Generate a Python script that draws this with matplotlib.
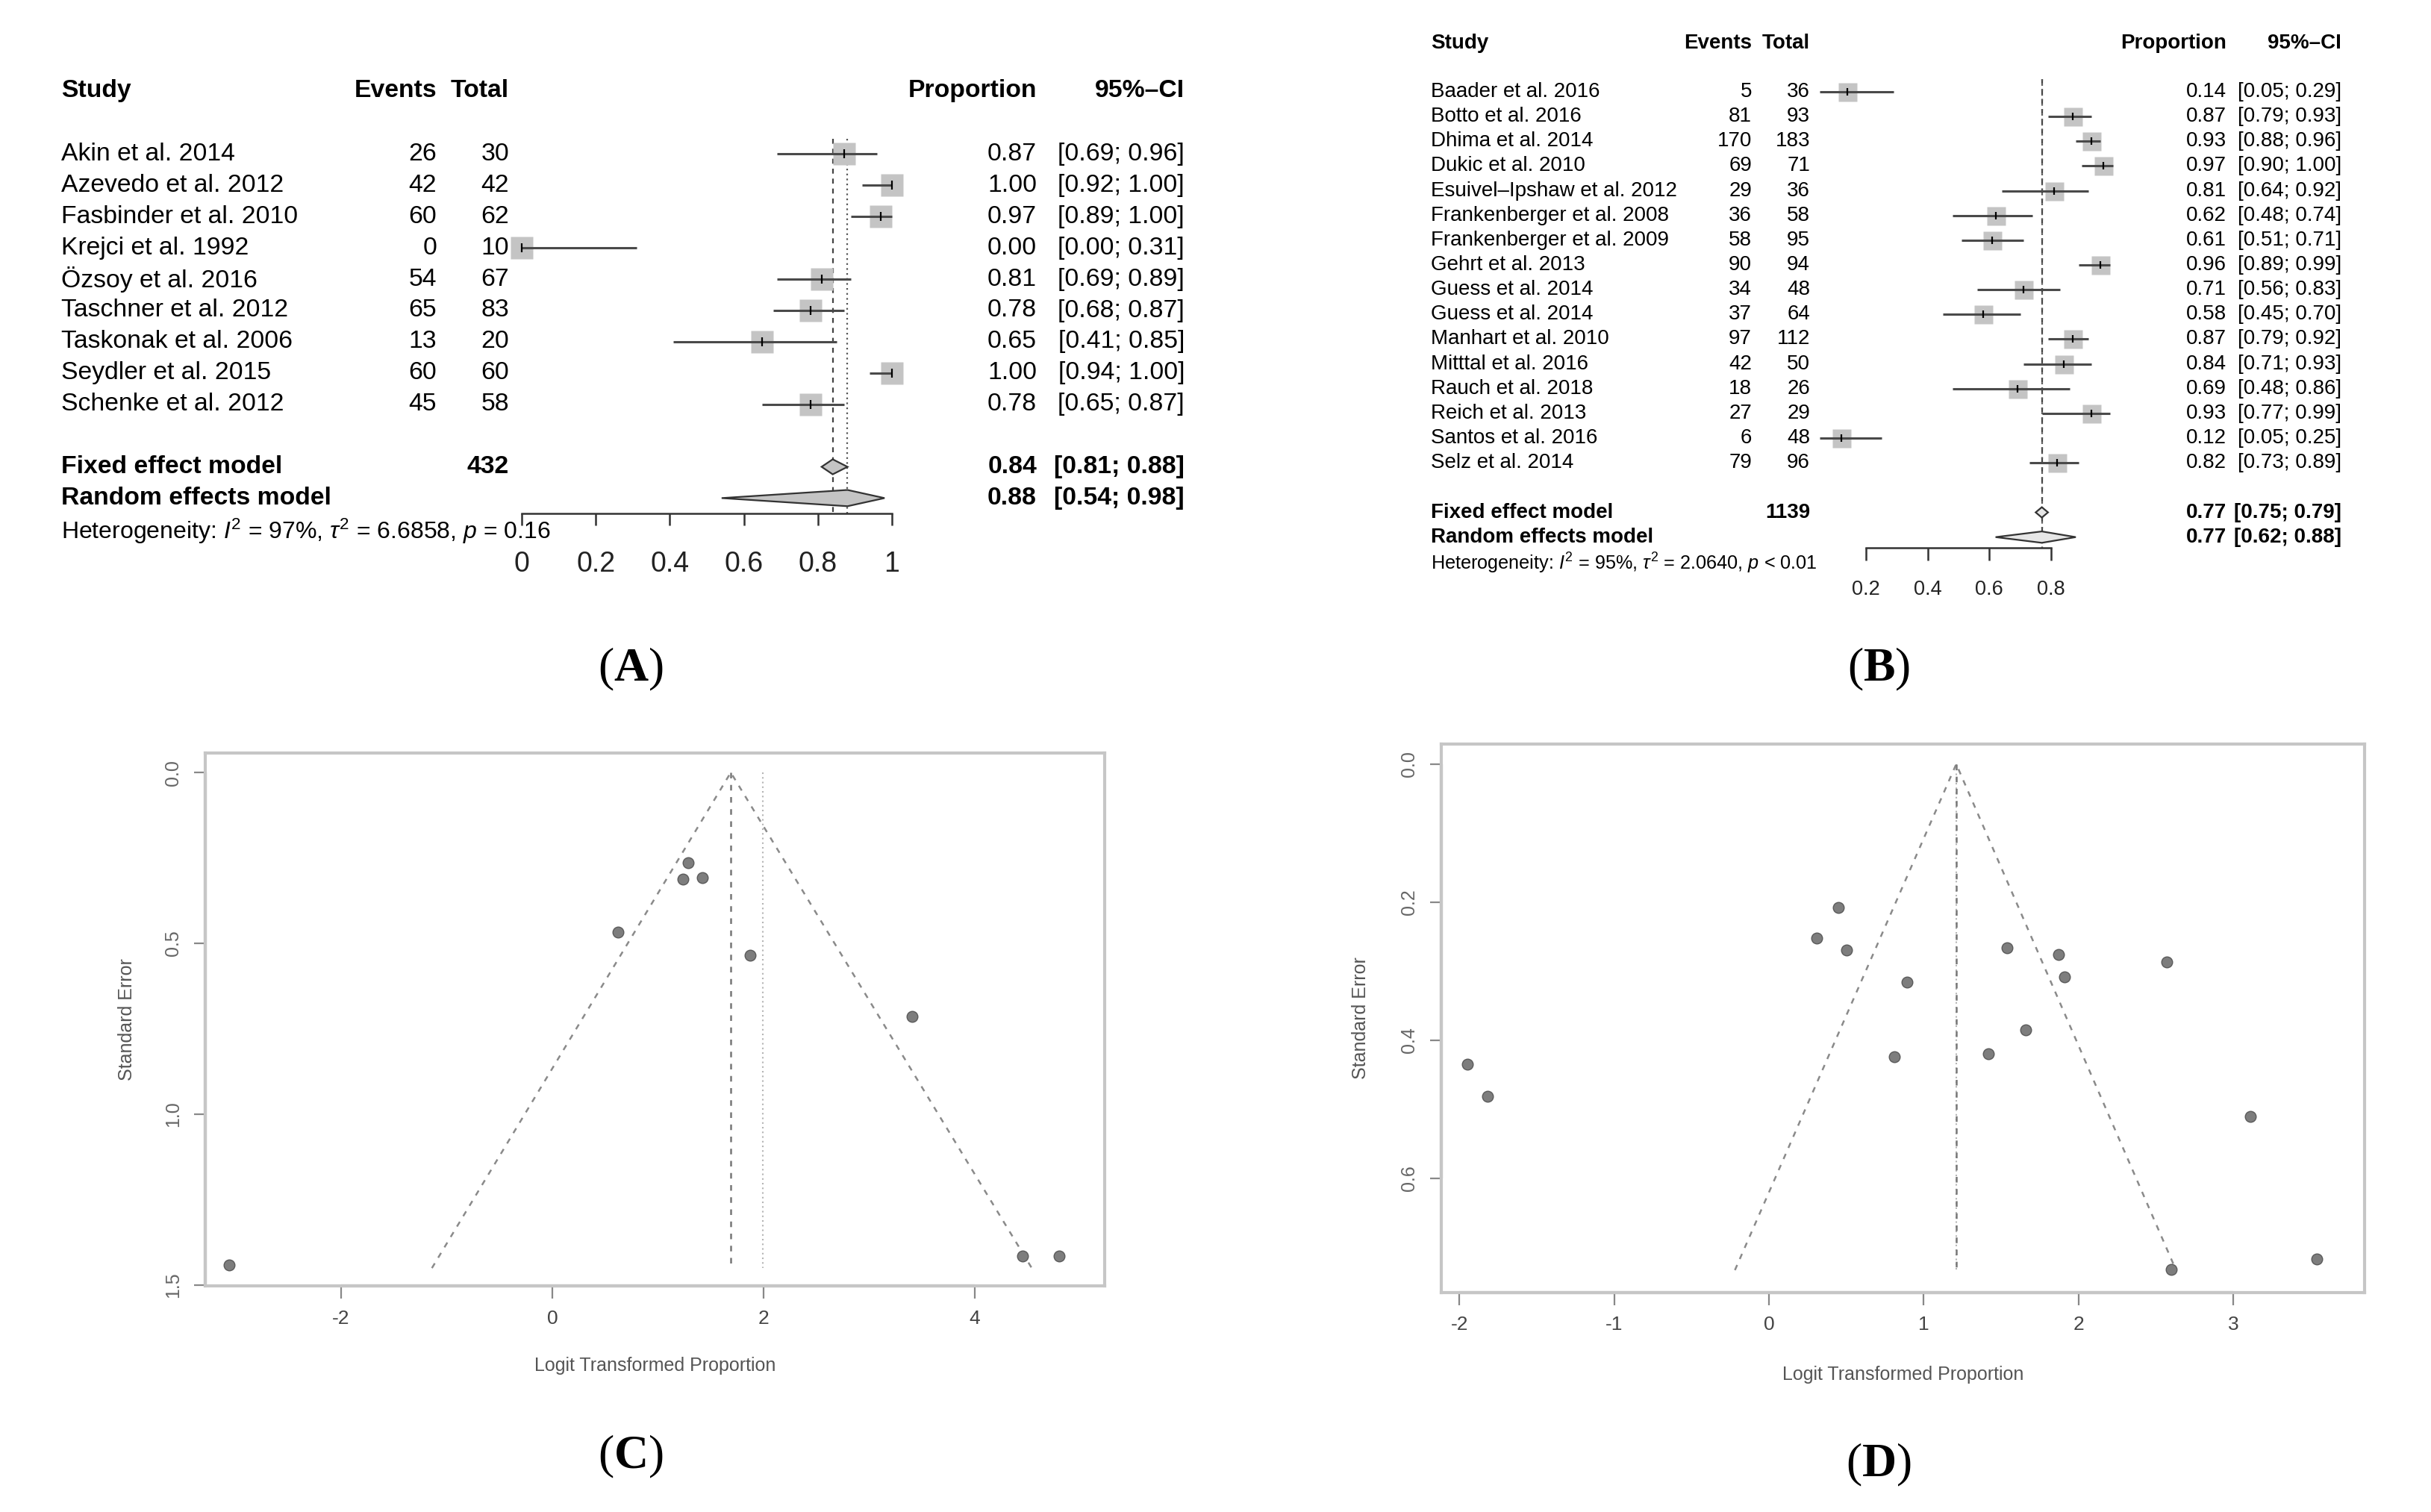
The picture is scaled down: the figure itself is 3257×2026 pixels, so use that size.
import matplotlib
matplotlib.use('Agg')
import matplotlib.pyplot as plt
import matplotlib.transforms as mtransforms

plt.rcParams['font.family'] = ['Liberation Sans', 'DejaVu Sans']
plt.rcParams['axes.unicode_minus'] = False
plt.rcParams['mathtext.fontset'] = 'custom'
plt.rcParams['mathtext.rm'] = 'Liberation Sans'
plt.rcParams['mathtext.it'] = 'Liberation Sans:italic'
plt.rcParams['mathtext.bf'] = 'Liberation Serif:bold'

# ---- panel A: forest plot ----
a_studies = ['Akin et al. 2014', 'Azevedo et al. 2012', 'Fasbinder et al. 2010', 'Krejci et al. 1992',
             'Özsoy et al. 2016', 'Taschner et al. 2012', 'Taskonak et al. 2006', 'Seydler et al. 2015',
             'Schenke et al. 2012']
a_events = [26, 42, 60, 0, 54, 65, 13, 60, 45]
a_totals = [30, 42, 62, 10, 67, 83, 20, 60, 58]
a_prop = [0.87, 1.00, 0.97, 0.00, 0.81, 0.78, 0.65, 1.00, 0.78]
a_lo = [0.69, 0.92, 0.89, 0.00, 0.69, 0.68, 0.41, 0.94, 0.65]
a_hi = [0.96, 1.00, 1.00, 0.31, 0.89, 0.87, 0.85, 1.00, 0.87]
a_fixed = [0.84, 0.81, 0.88]
a_random = [0.88, 0.54, 0.98]
a_total_sum = 432
a_het = r'Heterogeneity: $I^2$ = 97%, $\tau^2$ = 6.6858, $p$ = 0.16'

# ---- panel B: forest plot ----
b_studies = ['Baader et al. 2016', 'Botto et al. 2016', 'Dhima et al. 2014', 'Dukic et al. 2010',
             'Esuivel–Ipshaw et al. 2012', 'Frankenberger et al. 2008', 'Frankenberger et al. 2009',
             'Gehrt et al. 2013', 'Guess et al. 2014', 'Guess et al. 2014', 'Manhart et al. 2010',
             'Mitttal et al. 2016', 'Rauch et al. 2018', 'Reich et al. 2013', 'Santos et al. 2016',
             'Selz et al. 2014']
b_events = [5, 81, 170, 69, 29, 36, 58, 90, 34, 37, 97, 42, 18, 27, 6, 79]
b_totals = [36, 93, 183, 71, 36, 58, 95, 94, 48, 64, 112, 50, 26, 29, 48, 96]
b_prop = [0.14, 0.87, 0.93, 0.97, 0.81, 0.62, 0.61, 0.96, 0.71, 0.58, 0.87, 0.84, 0.69, 0.93, 0.12, 0.82]
b_lo = [0.05, 0.79, 0.88, 0.90, 0.64, 0.48, 0.51, 0.89, 0.56, 0.45, 0.79, 0.71, 0.48, 0.77, 0.05, 0.73]
b_hi = [0.29, 0.93, 0.96, 1.00, 0.92, 0.74, 0.71, 0.99, 0.83, 0.70, 0.92, 0.93, 0.86, 0.99, 0.25, 0.89]
b_fixed = [0.77, 0.75, 0.79]
b_random = [0.77, 0.62, 0.88]
b_total_sum = 1139
b_het = r'Heterogeneity: $I^2$ = 95%, $\tau^2$ = 2.0640, $p$ < 0.01'

# ---- panel C: funnel plot ----
c_logit = [1.29, 1.24, 1.42, 0.62, 1.87, 3.41, -3.06, 4.45, 4.80]
c_se = [0.264, 0.312, 0.308, 0.466, 0.534, 0.714, 1.441, 1.415, 1.415]
c_funnel_x = [-1.14, 1.69, 4.54]
c_funnel_y = [1.45, 0.0, 1.45]
c_fixed = 1.69
c_random = 1.99
c_se_max = 1.45

# ---- panel D: funnel plot ----
d_logit = [-1.95, -1.82, 0.31, 0.45, 0.50, 0.89, 0.81, 1.42, 1.54, 1.66, 1.87, 1.91, 2.57, 3.11, 2.60, 3.54]
d_se = [0.435, 0.481, 0.252, 0.208, 0.269, 0.316, 0.424, 0.420, 0.266, 0.385, 0.276, 0.308, 0.287,
        0.510, 0.732, 0.717]
d_funnel_x = [-0.22, 1.21, 2.63]
d_funnel_y = [0.733, 0.0, 0.733]
d_fixed = 1.21
d_random = 1.21
d_se_max = 0.733

W, H = 3257, 2026
fig = plt.figure(figsize=(W / 100, H / 100), dpi=100)


def axes_px(left, top, right, bottom):
    return fig.add_axes([left / W, 1 - bottom / H, (right - left) / W, (bottom - top) / H])


def forest(names, events, totals, prop, lo, hi, fixed, random, total_sum, het, lay):
    n = len(names)
    top_px = lay['row0'] + lay['top_k'] * lay['rowh']
    bot_px = lay['row0'] + lay['axis_k'] * lay['rowh']
    ax = axes_px(lay['x0'], top_px, lay['x1'], bot_px)
    ax.set_xlim(0, 1)
    ax.set_ylim(lay['axis_k'], lay['top_k'])
    ax.patch.set_visible(False)
    for s in ['top', 'left', 'right']:
        ax.spines[s].set_visible(False)
    ax.spines['bottom'].set_bounds(lay['ticks'][0], lay['ticks'][-1])
    ax.spines['bottom'].set_color('#333333')
    ax.spines['bottom'].set_linewidth(1.8)
    ax.set_xticks(lay['ticks'])
    ax.set_xticklabels(lay['ticklabels'])
    ax.set_yticks([])
    ax.tick_params(axis='x', length=lay['tick_len'], width=1.8, color='#333333', pad=lay['tick_pad'],
                   labelsize=lay['tick_fs'], labelcolor='#222222')

    # summary lines
    ax.plot([fixed[0], fixed[0]], [-0.5, lay['axis_k']], ls=(0, (3, 3)), color='#444444', lw=1.6)
    ax.plot([random[0], random[0]], [-0.5, lay['axis_k']], ls=(0, (1, 2)), color='#555555', lw=1.6)

    for i in range(n):
        ax.plot(prop[i], i, marker='s', ms=lay['sq'], color='#c4c4c4', mec='none', clip_on=False, zorder=2)
        ax.plot([lo[i], hi[i]], [i, i], color='#4a4a4a', lw=2.2, clip_on=False, zorder=3,
                solid_capstyle='butt')
        ax.plot(prop[i], i, marker='|', ms=lay['sq'] * 0.4, mew=1.6, color='black', clip_on=False, zorder=4)

    k_fixed, k_random = n + 1, n + 2
    for k, (est, l, h), hh in [(k_fixed, fixed, lay['dh'][0]), (k_random, random, lay['dh'][1])]:
        ax.fill([l, est, h, est], [k, k - hh, k, k + hh], facecolor=lay['dfill'], edgecolor='#333333',
                lw=1.6, clip_on=False, zorder=3)

    tr = mtransforms.blended_transform_factory(fig.transFigure, ax.transData)
    cs, ce, ct, cp, cc = [c / W for c in lay['cols']]
    fs = lay['fs']

    def row(k, a, b, c, d, e, weight='normal'):
        kw = dict(transform=tr, fontsize=fs, va='center', fontweight=weight, color='black')
        ax.text(cs, k, a, ha='left', **kw)
        ax.text(ce, k, b, ha='right', **kw)
        ax.text(ct, k, c, ha='right', **kw)
        ax.text(cp, k, d, ha='right', **kw)
        ax.text(cc, k, e, ha='right', **kw)

    row(lay['head_k'], 'Study', 'Events', 'Total', 'Proportion', '95%–CI', 'bold')
    for i in range(n):
        row(i, names[i], str(events[i]), str(totals[i]), f'{prop[i]:.2f}', f'[{lo[i]:.2f}; {hi[i]:.2f}]')
    row(k_fixed, 'Fixed effect model', '', str(total_sum), f'{fixed[0]:.2f}',
        f'[{fixed[1]:.2f}; {fixed[2]:.2f}]', 'bold')
    row(k_random, 'Random effects model', '', '', f'{random[0]:.2f}',
        f'[{random[1]:.2f}; {random[2]:.2f}]', 'bold')
    ax.text(cs, n + 3.06, het, transform=tr, fontsize=lay['het_fs'], va='center', ha='left')
    return ax


forest(a_studies, a_events, a_totals, a_prop, a_lo, a_hi, a_fixed, a_random, a_total_sum, a_het,
       dict(x0=699, x1=1195, row0=206.5, rowh=41.9, axis_k=11.48, top_k=-2.5, head_k=-2.02,
            cols=(82, 585, 682, 1389, 1587), fs=24.3, het_fs=23, tick_fs=27, tick_len=11.5, tick_pad=25,
            sq=22.3, dh=(0.24, 0.26), dfill='#c4c4c4',
            ticks=[0, 0.2, 0.4, 0.6, 0.8, 1.0], ticklabels=['0', '0.2', '0.4', '0.6', '0.8', '1']))

forest(b_studies, b_events, b_totals, b_prop, b_lo, b_hi, b_fixed, b_random, b_total_sum, b_het,
       dict(x0=2417.3, x1=2830.7, row0=123, rowh=33.15, axis_k=18.43, top_k=-2.5, head_k=-1.97,
            cols=(1917, 2347, 2425, 2983, 3137), fs=20, het_fs=18.2, tick_fs=19.5, tick_len=12, tick_pad=19,
            sq=18, dh=(0.21, 0.23), dfill='#e6e6e6',
            ticks=[0.2, 0.4, 0.6, 0.8], ticklabels=['0.2', '0.4', '0.6', '0.8']))


def funnel(box, xlim, ylim, xticks, yticks, yticklabels, xs, ses, fx, fy, fixed, random, se_max):
    ax = axes_px(*box)
    ax.set_xlim(*xlim)
    ax.set_ylim(*ylim)
    for s in ax.spines.values():
        s.set_color('#c6c6c6')
        s.set_linewidth(3.0)
    ax.set_xticks(xticks)
    ax.set_yticks(yticks)
    ax.set_yticklabels(yticklabels)
    ax.tick_params(axis='x', length=12, width=1.6, color='#888888', pad=11, labelsize=19,
                   labelcolor='#444444')
    ax.tick_params(axis='y', length=11, width=1.6, color='#888888', pad=11.5, labelsize=18,
                   labelcolor='#666666', labelrotation=90)
    for lab in ax.get_yticklabels():
        lab.set_va('center')
    # axis lines from first to last tick
    ax.plot([xticks[0], xticks[-1]], [0, 0], transform=ax.get_xaxis_transform(), color='#999999',
            lw=3.0, clip_on=False, solid_capstyle='butt')
    ax.plot([0, 0], [yticks[0], yticks[-1]], transform=ax.get_yaxis_transform(), color='#999999',
            lw=3.0, clip_on=False, solid_capstyle='butt')

    ax.plot(fx, fy, ls=(0, (3, 3.5)), color='#8a8a8a', lw=1.8)
    ax.plot([random, random], [0, se_max], ls=(0, (1, 2)), color='#b5b5b5', lw=1.5)
    ax.plot([fixed, fixed], [0, se_max], ls=(0, (3, 3.5)), color='#777777', lw=1.8)
    ax.plot(xs, ses, ls='none', marker='o', ms=10.5, mfc='#7d7d7d', mec='#5a5a5a', mew=1.0)

    ax.text(0.5, -0.15, 'Logit Transformed Proportion', transform=ax.transAxes, ha='center', va='center',
            fontsize=18, color='#555555')
    ax.text(-0.087, 0.5, 'Standard Error', transform=ax.transAxes, ha='center', va='center',
            rotation=90, fontsize=18, color='#555555')
    return ax


funnel((275, 1009, 1480, 1723), (-3.286, 5.23), (1.502, -0.057), [-2, 0, 2, 4],
       [0, 0.5, 1.0, 1.5], ['0.0', '0.5', '1.0', '1.5'], c_logit, c_se, c_funnel_x, c_funnel_y,
       c_fixed, c_random, c_se_max)
funnel((1931, 997, 3168, 1731.5), (-2.117, 3.848), (0.765, -0.029), [-2, -1, 0, 1, 2, 3],
       [0, 0.2, 0.4, 0.6], ['0.0', '0.2', '0.4', '0.6'], d_logit, d_se, d_funnel_x, d_funnel_y,
       d_fixed, d_random, d_se_max)

# panel letters
for letter, (x, y) in zip(['A', 'B', 'C', 'D'], [(845, 897), (2517, 897), (845, 1952), (2517, 1963)]):
    fig.text(x / W, 1 - y / H, '($\\mathbf{' + letter + '}$)', ha='center', va='center', fontsize=46,
             family='Liberation Serif')

fig.savefig('out.png', dpi=100)
